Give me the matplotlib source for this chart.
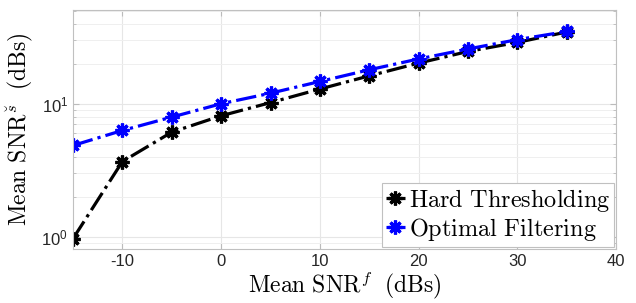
import math
import matplotlib
matplotlib.use("Agg")
import matplotlib.pyplot as plt
from matplotlib.font_manager import FontProperties
from matplotlib.ticker import FixedLocator, FuncFormatter, LogLocator, NullFormatter

snr_f = [-15, -10, -5, 0, 5, 10, 15, 20, 25, 30, 35]
hard_thr = [0.97, 3.68, 6.12, 8.12, 10.2, 12.9, 16.2, 20.2, 24.7, 28.9, 34.6]
opt_filt = [4.86, 6.30, 7.94, 10.0, 12.0, 14.7, 18.0, 21.7, 25.8, 30.3, 34.9]
x_ticks = [-10, 0, 10, 20, 30, 40]

plt.rcParams["font.family"] = ["Liberation Sans", "DejaVu Sans"]
plt.rcParams["axes.unicode_minus"] = False

fig = plt.figure(figsize=(6.36, 3.03), dpi=100)
ax = fig.add_axes([0.1148, 0.178, 0.854, 0.789])

star = (8, 2, 0)
ax.plot(snr_f, hard_thr, color="black", linestyle="-.", linewidth=2.3,
        marker=star, markersize=10, markeredgewidth=2.3, label=r"$\mathrm{Hard\ Thresholding}$")
ax.plot(snr_f, opt_filt, color="blue", linestyle="-.", linewidth=2.3,
        marker=star, markersize=10, markeredgewidth=2.3, label=r"$\mathrm{Optimal\ Filtering}$")

ax.set_yscale("log")
ax.set_xlim(-15, 40)
ax.set_ylim(0.81, 50.6)
ax.xaxis.set_major_locator(FixedLocator(x_ticks))
ax.yaxis.set_major_locator(LogLocator(base=10, numticks=5))
ax.yaxis.set_minor_locator(LogLocator(base=10, subs=range(2, 10), numticks=20))
ax.yaxis.set_minor_formatter(NullFormatter())
ax.yaxis.set_major_formatter(FuncFormatter(
    lambda v, p: r"$\mathregular{10^{%d}}$" % round(math.log10(v))))

ax.grid(True, which="major", color="#e6e6e6", linewidth=0.8)
ax.grid(True, which="minor", axis="y", color="#efefef", linewidth=0.7)
ax.set_axisbelow(True)
ax.tick_params(which="both", direction="in", top=True, right=True,
               color="#bbbbbb", labelsize=12, labelcolor="#262626")
ax.tick_params(which="major", length=4)
ax.tick_params(which="minor", length=2.5)
for s in ax.spines.values():
    s.set_color("#c0c0c0")

ax.set_xlabel(r"$\mathrm{Mean\ SNR}^{f}\ \ \mathrm{(dBs)}$", fontsize=17,
              math_fontfamily="cm", labelpad=0)
ax.set_ylabel(r"$\mathrm{Mean\ SNR}^{\breve{s}}\ \ \mathrm{(dBs)}$", fontsize=17,
              math_fontfamily="cm", labelpad=4)

leg = ax.legend(loc="lower right", prop=FontProperties(size=17.5, math_fontfamily="cm"),
                handlelength=0.8, handletextpad=0.15, borderpad=0.15,
                labelspacing=0.1, borderaxespad=0.1, fancybox=False,
                framealpha=1, edgecolor="#c0c0c0")
leg.get_frame().set_linewidth(0.8)

fig.savefig("out.png", dpi=100)
